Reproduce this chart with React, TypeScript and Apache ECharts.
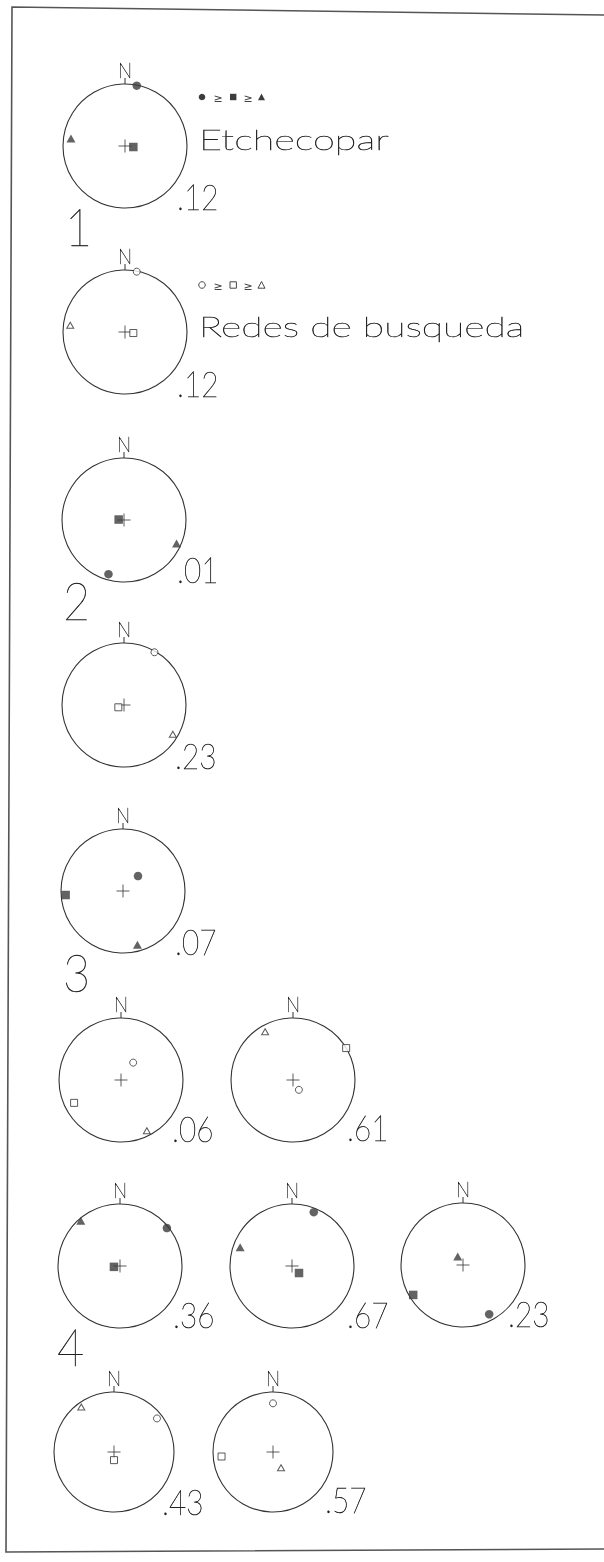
import { useEffect, useRef } from 'react';
import * as echarts from 'echarts';

// Principal stress axes of each solution, [trend°, plunge°]
const sigma1: [number, number][] = [
  [11, 1], [11, 1], [196, 10], [30, 2], [45, 62], [35, 62],
  [149, 75], [51, 3], [22, 7], [152, 11], [52, 10], [0, 20],
];
const sigma2: [number, number][] = [
  [97, 79], [97, 79], [275, 83], [248, 82], [266, 8], [244, 17],
  [59, 0], [262, 82], [135, 77], [239, 7], [180, 79], [265, 15],
];
const sigma3: [number, number][] = [
  [278, 13], [277, 12], [114, 8], [121, 9], [165, 11], [153, 9],
  [330, 11], [319, 4], [290, 12], [328, 77], [324, 8], [153, 66],
];
// Stress ratio of each solution
const ratios = [0.12, 0.12, 0.01, 0.23, 0.07, 0.06, 0.61, 0.36, 0.67, 0.23, 0.43, 0.57];
// true = Etchecopar inversion (filled), false = grid search (open)
const inversion = [true, false, true, false, true, false, false, true, true, true, false, false];
const siteLabels = ['1', '2', '3', '4'];
const methodLabels = ['Etchecopar', 'Redes de busqueda'];
const northLabel = 'N';

// Page layout of the nets: centre, radius, ratio label anchor
const netLayout = [
  { cx: 125, cy: 146, r: 62, lx: 177, ly: 197 },
  { cx: 125, cy: 332, r: 62, lx: 177, ly: 384 },
  { cx: 124, cy: 520, r: 62, lx: 177, ly: 570 },
  { cx: 124, cy: 705, r: 62, lx: 175, ly: 756 },
  { cx: 123, cy: 891, r: 62, lx: 175, ly: 942 },
  { cx: 121, cy: 1080, r: 62, lx: 172, ly: 1129 },
  { cx: 293, cy: 1080, r: 62, lx: 347, ly: 1128 },
  { cx: 120, cy: 1266, r: 62, lx: 173, ly: 1315 },
  { cx: 292, cy: 1266, r: 62, lx: 347, ly: 1315 },
  { cx: 463, cy: 1265, r: 62, lx: 508, ly: 1314 },
  { cx: 114, cy: 1452, r: 60, lx: 162, ly: 1502 },
  { cx: 273, cy: 1452, r: 60, lx: 325, ly: 1500 },
];
const siteLayout = [
  { x: 65, y: 226 },
  { x: 63, y: 600 },
  { x: 63, y: 972 },
  { x: 57, y: 1346 },
];

const INK = '#333';
const FILL = '#3c3c3c';
const FONT = 'Lato';
const WEIGHT = 200;
const CROSS = 'path://M0,6L12,6M6,0L6,12';
const SYMBOLS = ['circle', 'rect', 'triangle'];

// Schmidt (equal-area) lower hemisphere radius, 1 = primitive circle
const projRadius = (plunge: number) =>
  Math.SQRT2 * Math.sin(((90 - plunge) / 2) * Math.PI / 180);

const fmtRatio = (v: number) => '.' + String(Math.round(v * 100)).padStart(2, '0');

function stressItem(axis: [number, number], kind: number, solid: boolean) {
  const tri = kind === 2;
  return {
    value: [projRadius(axis[1]), axis[0]],
    symbol: SYMBOLS[kind],
    symbolSize: solid ? (tri ? [9, 8] : 8.5) : (tri ? [7, 6] : 7),
    itemStyle: solid
      ? { color: FILL, borderWidth: 0 }
      : { color: '#fff', borderColor: INK, borderWidth: 1 },
  };
}

function legendRow(x: number, y: number, solid: boolean) {
  const st = solid
    ? { fill: FILL, stroke: 'none' }
    : { fill: '#fff', stroke: INK, lineWidth: 0.9 };
  const geText = (gx: number) => ({
    type: 'text', x: gx, y: y + 1,
    style: { text: '≥', fontFamily: 'DejaVu Sans', fontSize: 11, fill: '#444', align: 'center', verticalAlign: 'middle' },
  });
  return [
    { type: 'circle', shape: { cx: x, cy: y, r: 3.3 }, style: st },
    geText(x + 16),
    { type: 'rect', shape: { x: x + 28, y: y - 3.2, width: 6.4, height: 6.4 }, style: st },
    geText(x + 46),
    { type: 'polygon', shape: { points: [[x + 56, y + 3.2], [x + 59.5, y - 3.5], [x + 63, y + 3.2]] }, style: st },
  ];
}

export default function App() {
  const ref = useRef<HTMLDivElement>(null);

  useEffect(() => {
    if (!ref.current) return;
    const chart = echarts.init(ref.current, null, { renderer: 'svg' });

    const polar = netLayout.map((n) => ({ center: [n.cx, n.cy], radius: n.r }));
    const angleAxis = netLayout.map((_, i) => ({
      polarIndex: i,
      type: 'value',
      min: 0,
      max: 360,
      interval: 360,
      startAngle: 90,
      clockwise: true,
      axisLine: { lineStyle: { color: INK, width: 1.1 } },
      axisTick: { show: true, length: 6, lineStyle: { color: INK, width: 1 } },
      axisLabel: { show: false },
      splitLine: { show: false },
    }));
    const radiusAxis = netLayout.map((_, i) => ({
      polarIndex: i, type: 'value', min: 0, max: 1, show: false,
    }));

    const series = netLayout.map((_, i) => ({
      type: 'scatter',
      coordinateSystem: 'polar',
      polarIndex: i,
      silent: true,
      data: [
        {
          value: [0, 0],
          symbol: CROSS,
          symbolSize: 13,
          itemStyle: { color: 'none', borderColor: INK, borderWidth: 1 },
        },
        stressItem(sigma1[i], 0, inversion[i]),
        stressItem(sigma2[i], 1, inversion[i]),
        stressItem(sigma3[i], 2, inversion[i]),
      ],
    }));

    const txt = (text: string, x: number, y: number, size: number, scaleX: number, align = 'left') => ({
      type: 'text', x, y, scaleX,
      style: {
        text, fontFamily: FONT, fontWeight: WEIGHT, fontSize: size,
        fill: '#222', stroke: '#222', lineWidth: 0.45,
        align, verticalAlign: 'middle',
      },
    });

    const graphic: any[] = [
      // sheet border
      {
        type: 'polyline',
        shape: { points: [[604, 15], [12, 7], [6, 1552], [604, 1549]] },
        style: { stroke: '#555', lineWidth: 1.6, fill: 'none' },
      },
      ...legendRow(202, 97, true),
      ...legendRow(202, 285, false),
      txt(methodLabels[0], 199, 139, 28, 1.42),
      txt(methodLabels[1], 199, 326, 28, 1.4),
      ...netLayout.map((n) => txt(northLabel, n.cx, n.cy - n.r - 14, 21, 0.9, 'center')),
      ...netLayout.map((n, i) => txt(fmtRatio(ratios[i]), n.lx, n.ly, 35, 0.85)),
      ...siteLayout.map((p, i) => txt(siteLabels[i], p.x, p.y, 52, 0.9)),
    ];

    chart.setOption({
      animation: false,
      backgroundColor: '#fff',
      polar,
      angleAxis,
      radiusAxis,
      series,
      graphic,
    });
    return () => chart.dispose();
  }, []);

  return (
    <div
      ref={ref}
      style={{
        position: 'absolute', left: 0, top: 0, width: 604, height: 1562,
        background: '#fff', filter: 'grayscale(1)',
      }}
    />
  );
}
